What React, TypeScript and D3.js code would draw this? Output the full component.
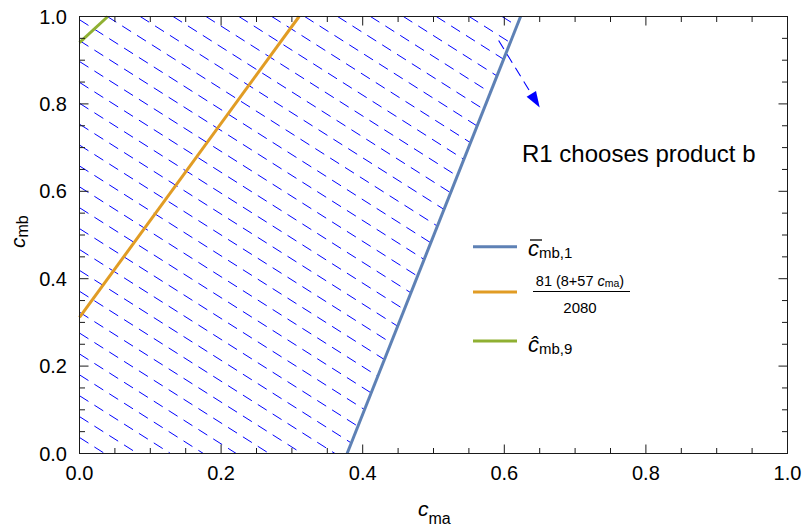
import React from "react";
import * as d3 from "d3";

const X_MAJOR = [0, 0.2, 0.4, 0.6, 0.8, 1.0];
const X_LABELS = ["0.0", "0.2", "0.4", "0.6", "0.8", "1.0"];
const Y_MAJOR = [0, 0.2, 0.4, 0.6, 0.8, 1.0];
const Y_LABELS = ["0.0", "0.2", "0.4", "0.6", "0.8", "1.0"];

// boundary lines (c_ma, c_mb)
const blueX = [0.378, 0.623];
const blueY = [0, 1];
const orangeX = [0, 0.3102];
const orangeY = [0.3115, 1];
const greenX = [0, 0.04];
const greenY = [0.94, 1];

// hatched region (left of blue line)
const regionX = [0, 0.378, 0.623, 0];
const regionY = [0, 0, 1, 1];

// hatch lines: left-edge intercepts (c_mb)
const HATCH_FIRST = 0.0366;
const HATCH_STEP = 0.0478;
const HATCH_COUNT = 36;

// arrow
const arrowX = [0.592, 0.65];
const arrowY = [0.945, 0.792];

const W = 806;
const H = 527;
const FONT = "'Liberation Sans', Arial, Helvetica, sans-serif";
const BLUE = "#5E81B5";
const ORANGE = "#E19C24";
const GREEN = "#8FB032";
const HATCH = "#0000FF";

export default function App() {
  const x = d3.scaleLinear().domain([0, 1]).range([79.5, 787.5]);
  const y = d3.scaleLinear().domain([0, 1]).range([453.5, 16.5]);
  const minor = x.ticks(20);

  const line = d3
    .line<[number, number]>()
    .x((d) => x(d[0]))
    .y((d) => y(d[1]));

  const pts = (xs: number[], ys: number[]) =>
    xs.map((v, i) => [v, ys[i]] as [number, number]);

  const regionPath = line(pts(regionX, regionY)) + "Z";

  const slope = 0.635;
  const hatchLines = d3.range(HATCH_COUNT).map((k) => {
    const yd = HATCH_FIRST + k * HATCH_STEP;
    let sx = x(0);
    let sy = y(yd);
    if (sy < y(1)) {
      sx = x(0) + (y(1) - sy) / slope;
      sy = y(1);
    }
    const ex = 800;
    const ey = sy + slope * (ex - sx);
    return { sx, sy, ex, ey };
  });

  // arrow geometry
  const ax0 = x(arrowX[0]);
  const ay0 = y(arrowY[0]);
  const ax1 = x(arrowX[1]);
  const ay1 = y(arrowY[1]);
  const len = Math.hypot(ax1 - ax0, ay1 - ay0);
  const ux = (ax1 - ax0) / len;
  const uy = (ay1 - ay0) / len;
  const headL = 16;
  const headW = 5.5;
  const bx = ax1 - ux * headL;
  const by = ay1 - uy * headL;
  const head = `M${ax1},${ay1}L${bx - uy * headW},${by + ux * headW}L${bx + uy * headW},${by - ux * headW}Z`;

  const frame = "#1a1a1a";

  return (
    <svg
      width={W}
      height={H}
      style={{ position: "absolute", left: 0, top: 0, background: "#fff" }}
      fontFamily={FONT}
    >
      <defs>
        <clipPath id="region">
          <path d={regionPath} />
        </clipPath>
      </defs>

      {/* hatch */}
      <g clipPath="url(#region)">
        {hatchLines.map((l, i) => (
          <line
            key={i}
            x1={l.sx}
            y1={l.sy}
            x2={l.ex}
            y2={l.ey}
            stroke={HATCH}
            strokeWidth={1}
            strokeDasharray="10.6 7"
          />
        ))}
      </g>

      {/* arrow */}
      <line
        x1={ax0}
        y1={ay0}
        x2={bx}
        y2={by}
        stroke={HATCH}
        strokeWidth={1.1}
        strokeDasharray="10 6"
      />
      <path d={head} fill={HATCH} />

      {/* boundary lines */}
      <path d={line(pts(blueX, blueY)) || ""} stroke={BLUE} strokeWidth={3} fill="none" />
      <path d={line(pts(orangeX, orangeY)) || ""} stroke={ORANGE} strokeWidth={3} fill="none" />
      <path d={line(pts(greenX, greenY)) || ""} stroke={GREEN} strokeWidth={3} fill="none" />

      {/* frame */}
      <rect
        x={x(0)}
        y={y(1)}
        width={x(1) - x(0)}
        height={y(0) - y(1)}
        fill="none"
        stroke={frame}
        strokeWidth={1}
      />
      {minor.map((t, i) => {
        const major = X_MAJOR.some((m) => Math.abs(m - t) < 1e-9);
        const L = major ? 9 : 5.5;
        return (
          <g key={"t" + i} stroke={frame} strokeWidth={1}>
            <line x1={x(t)} x2={x(t)} y1={y(0)} y2={y(0) - L} />
            <line x1={x(t)} x2={x(t)} y1={y(1)} y2={y(1) + L} />
            <line x1={x(0)} x2={x(0) + L} y1={y(t)} y2={y(t)} />
            <line x1={x(1)} x2={x(1) - L} y1={y(t)} y2={y(t)} />
          </g>
        );
      })}

      {/* tick labels */}
      {X_MAJOR.map((t, i) => (
        <text key={"xl" + i} x={x(t)} y={480} fontSize={20} textAnchor="middle" fill="#000">
          {X_LABELS[i]}
        </text>
      ))}
      {Y_MAJOR.map((t, i) => (
        <text key={"yl" + i} x={67} y={y(t) + 7} fontSize={20} textAnchor="end" fill="#000">
          {Y_LABELS[i]}
        </text>
      ))}

      {/* axis labels */}
      <text x={418} y={516} fill="#000">
        <tspan fontSize={21} fontStyle="italic">c</tspan>
        <tspan fontSize={16} dy={8}>ma</tspan>
      </text>
      <text transform="translate(25,248) rotate(-90)" fill="#000">
        <tspan fontSize={21} fontStyle="italic">c</tspan>
        <tspan fontSize={16} dy={3}>mb</tspan>
      </text>

      {/* annotation */}
      <text x={522} y={162} fontSize={24} fill="#000">
        R1 chooses product b
      </text>

      {/* legend */}
      <line x1={473} x2={517} y1={246.7} y2={246.7} stroke={BLUE} strokeWidth={3} />
      <line x1={473} x2={517} y1={292} y2={292} stroke={ORANGE} strokeWidth={3} />
      <line x1={473} x2={517} y1={341} y2={341} stroke={GREEN} strokeWidth={3} />

      <text x={528} y={256} fill="#000">
        <tspan fontSize={22} fontStyle="italic">c</tspan>
        <tspan fontSize={15} dy={1.5}>mb,1</tspan>
      </text>
      <line x1={530} x2={542} y1={240} y2={240} stroke="#000" strokeWidth={1.3} />

      <text x={580} y={286} textAnchor="middle" fill="#000">
        <tspan fontSize={14.5}>81 (8+57 </tspan>
        <tspan fontSize={14.5} fontStyle="italic">c</tspan>
        <tspan fontSize={10.5} dy={1}>ma</tspan>
        <tspan fontSize={14.5} dy={-1}>)</tspan>
      </text>
      <line x1={533} x2={630} y1={291.5} y2={291.5} stroke="#000" strokeWidth={1} />
      <text x={580} y={313} fontSize={15} textAnchor="middle" fill="#000">
        2080
      </text>

      <text x={528} y={352} fill="#000">
        <tspan fontSize={22} fontStyle="italic">ĉ</tspan>
        <tspan fontSize={15} dy={1.5}>mb,9</tspan>
      </text>
    </svg>
  );
}
